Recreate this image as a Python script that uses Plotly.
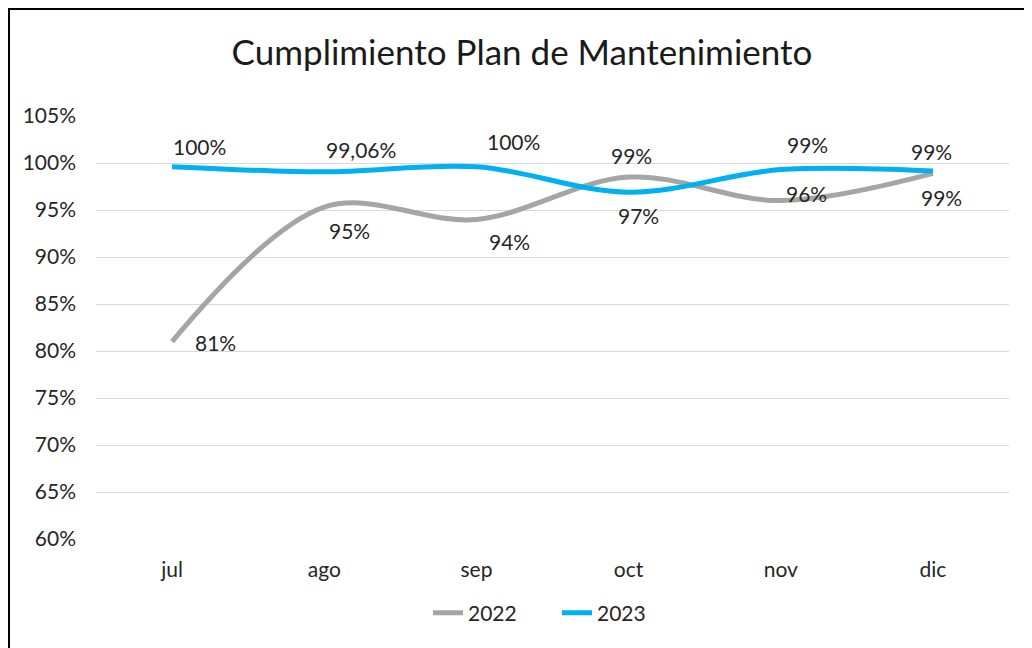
import plotly.graph_objects as go

months = ["jul", "ago", "sep", "oct", "nov", "dic"]
v2022 = [0.81, 0.953, 0.94, 0.985, 0.96, 0.989]
v2023 = [0.996, 0.9906, 0.996, 0.969, 0.993, 0.9915]
lbl2022 = ["81%", "95%", "94%", "99%", "96%", "99%"]
lbl2023 = ["100%", "99,06%", "100%", "97%", "99%", "99%"]
yticks = [0.60, 0.65, 0.70, 0.75, 0.80, 0.85, 0.90, 0.95, 1.00, 1.05]
ytick_text = ["60%", "65%", "70%", "75%", "80%", "85%", "90%", "95%", "100%", "105%"]

# label offsets (pixels, relative to the point)
off2022 = [(43, -1), (25, -23), (33, -22), (3, 22), (26, 7), (9, -24)]
off2023 = [(27, 20), (37, 22), (37, 25), (10, -23), (27, 25), (-1, 19)]

FONT = "Lato, Carlito, Calibri, sans-serif"
TXT = "#262626"
GRAY = "#A5A5A5"
BLUE = "#00B0F0"

W, H = 1024, 640
L, R, T, B = 88, 23, 108, 109
PW, PH = W - L - R, H - T - B

fig = go.Figure()
fig.add_trace(go.Scatter(x=months, y=v2022, name="2022", mode="lines",
                         line=dict(color=GRAY, width=5, shape="spline", smoothing=1.0)))
fig.add_trace(go.Scatter(x=months, y=v2023, name="2023", mode="lines",
                         line=dict(color=BLUE, width=5, shape="spline", smoothing=1.0)))

annotations = []
for vals, lbls, offs in ((v2022, lbl2022, off2022), (v2023, lbl2023, off2023)):
    for m, v, t, (dx, dy) in zip(months, vals, lbls, offs):
        annotations.append(dict(x=m, y=v, text=t, showarrow=False, xshift=dx, yshift=dy,
                                font=dict(family=FONT, size=21, color=TXT)))

fig.update_layout(
    width=W, height=H,
    paper_bgcolor="white", plot_bgcolor="white",
    margin=dict(l=L, r=R, t=T, b=B),
    title=dict(text="Cumplimiento Plan de Mantenimiento", x=514 / W, xanchor="center",
               y=1 - 45 / H, yanchor="middle",
               font=dict(family=FONT, size=35, color="#1a1a1a")),
    font=dict(family=FONT, size=21, color=TXT),
    xaxis=dict(range=[-0.5, 5.5], showgrid=False, showline=False, zeroline=False,
               ticks="", ticklabelstandoff=16, tickfont=dict(size=21, color=TXT)),
    yaxis=dict(range=[0.60, 1.05], tickvals=yticks, ticktext=ytick_text,
               showgrid=True, gridcolor="#D9D9D9", gridwidth=1, zeroline=False,
               showline=False, ticks="", ticklabelstandoff=19,
               tickfont=dict(size=21, color=TXT)),
    legend=dict(orientation="h", x=(549 - L) / PW, xanchor="center",
                y=(T + PH - 605) / PH, yanchor="middle",
                font=dict(size=21, color=TXT), itemwidth=30, tracegroupgap=0,
                entrywidth=84, entrywidthmode="pixels"),
    annotations=annotations,
    shapes=[
        dict(type="line", xref="paper", yref="paper",
             x0=(-0.5 - L) / PW, x1=(W + 5 - L) / PW,
             y0=(T + PH - 0.5) / PH, y1=(T + PH - 0.5) / PH,
             line=dict(color="black", width=3)),
        dict(type="line", xref="paper", yref="paper",
             x0=(0.5 - L) / PW, x1=(0.5 - L) / PW,
             y0=(T + PH + 5) / PH, y1=(T + PH - H - 5) / PH,
             line=dict(color="black", width=3)),
    ],
)

fig.write_html("out.html")
